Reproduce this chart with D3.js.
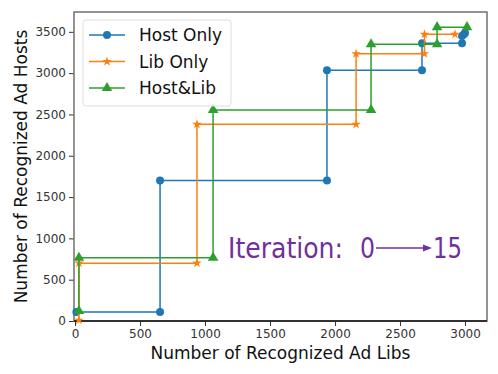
<!DOCTYPE html>
<html>
<head>
<meta charset="utf-8">
<script src="https://cdn.jsdelivr.net/npm/d3@7"></script>
<style>
  body { margin: 0; background: #fff; }
  text { font-family: "DejaVu Sans", sans-serif; }
</style>
</head>
<body>
<div id="chart"></div>
<script>
// series values (x = ad libs, y = ad hosts)
const hostOnlyX = [10, 654, 654, 1938, 1938, 2669, 2669, 2977, 2977, 2992, 3000];
const hostOnlyY = [110, 110, 1700, 1700, 3035, 3035, 3362, 3362, 3450, 3470, 3485];
const libOnlyX = [30, 30, 938, 938, 2162, 2162, 2688, 2688, 2923];
const libOnlyY = [10, 700, 700, 2380, 2380, 3235, 3235, 3470, 3470];
const hostLibX = [30, 30, 1062, 1062, 2277, 2277, 2785, 2785, 3015];
const hostLibY = [120, 765, 765, 2555, 2555, 3350, 3350, 3556, 3556];

const seriesNames = ["Host Only", "Lib Only", "Host&Lib"];
const xTicks = [0, 500, 1000, 1500, 2000, 2500, 3000];
const yTicks = [0, 500, 1000, 1500, 2000, 2500, 3000, 3500];

const W = 498, H = 374;
const margin = { left: 74, right: 11, top: 12, bottom: 53 };
const width = W - margin.left - margin.right;
const height = H - margin.top - margin.bottom;

const svg = d3.select("#chart").append("svg")
  .attr("width", W).attr("height", H);

const g = svg.append("g")
  .attr("transform", `translate(${margin.left},${margin.top})`);

const x = d3.scaleLinear().domain([-8, 3169]).range([0, width]);
const y = d3.scaleLinear().domain([0, 3740]).range([height, 0]);

// axes
const xAxis = g.append("g")
  .attr("transform", `translate(0,${height})`)
  .call(d3.axisBottom(x).tickValues(xTicks).tickFormat(d3.format("d")).tickSize(5).tickPadding(3));
const yAxis = g.append("g")
  .call(d3.axisLeft(y).tickValues(yTicks).tickFormat(d3.format("d")).tickSize(5).tickPadding(3));
[xAxis, yAxis].forEach(a => {
  a.selectAll("text").attr("font-size", 12).attr("fill", "#333")
    .attr("font-family", "DejaVu Sans");
  a.selectAll("line").attr("stroke", "#333");
  a.select(".domain").remove();
});

// spines
g.append("rect").attr("x", 0).attr("y", 0).attr("width", width).attr("height", height)
  .attr("fill", "none").attr("stroke", "#707070").attr("stroke-width", 1.5);
g.append("line").attr("x1", 0).attr("x2", width).attr("y1", height).attr("y2", height)
  .attr("stroke", "#111").attr("stroke-width", 1.5);

const colors = ["#1f77b4", "#ff7f0e", "#2ca02c"];
const symbols = [d3.symbolCircle, d3.symbolStar, d3.symbolTriangle];
const symSizes = [50, 28, 48];

const series = [
  d3.zip(hostOnlyX, hostOnlyY),
  d3.zip(libOnlyX, libOnlyY),
  d3.zip(hostLibX, hostLibY)
];

const line = d3.line().x(d => x(d[0])).y(d => y(d[1]));

series.forEach((pts, i) => {
  g.append("path").datum(pts)
    .attr("fill", "none")
    .attr("stroke", colors[i])
    .attr("stroke-width", 1.5)
    .attr("d", line);
  g.selectAll(null).data(pts).enter().append("path")
    .attr("transform", d => `translate(${x(d[0])},${y(d[1])})`)
    .attr("d", d3.symbol().type(symbols[i]).size(symSizes[i]))
    .attr("fill", colors[i]);
});

// axis titles
svg.append("text")
  .attr("x", margin.left + width / 2).attr("y", 359)
  .attr("text-anchor", "middle").attr("font-size", 17).attr("fill", "#111")
  .text("Number of Recognized Ad Libs");
svg.append("text")
  .attr("transform", `translate(27,${margin.top + height / 2}) rotate(-90)`)
  .attr("text-anchor", "middle").attr("font-size", 17).attr("fill", "#111")
  .text("Number of Recognized Ad Hosts");

// legend
const legend = svg.append("g");
legend.append("rect")
  .attr("x", 83).attr("y", 20).attr("width", 148).attr("height", 86)
  .attr("rx", 3).attr("fill", "#fff").attr("fill-opacity", 0.8)
  .attr("stroke", "#ddd");
seriesNames.forEach((name, i) => {
  const ly = 35 + i * 26.5;
  legend.append("line").attr("x1", 89).attr("x2", 125).attr("y1", ly).attr("y2", ly)
    .attr("stroke", colors[i]).attr("stroke-width", 1.5);
  legend.append("path")
    .attr("transform", `translate(107,${ly})`)
    .attr("d", d3.symbol().type(symbols[i]).size(symSizes[i]))
    .attr("fill", colors[i]);
  legend.append("text").attr("x", 139).attr("y", ly + 6)
    .attr("font-size", 17).attr("fill", "#111").text(name);
});

// iteration annotation
const purple = "#7030a0";
const ann = svg.append("g").attr("fill", purple)
  .style("font-family", "Lato, 'Open Sans', sans-serif").attr("font-size", 28);
ann.append("text").attr("x", 228).attr("y", 258)
  .attr("textLength", 115).attr("lengthAdjust", "spacingAndGlyphs").text("Iteration:");
ann.append("text").attr("x", 360).attr("y", 258)
  .attr("textLength", 15).attr("lengthAdjust", "spacingAndGlyphs").text("0");
ann.append("text").attr("x", 433).attr("y", 258)
  .attr("textLength", 29).attr("lengthAdjust", "spacingAndGlyphs").text("15");
svg.append("line").attr("x1", 376).attr("x2", 424).attr("y1", 248).attr("y2", 248)
  .attr("stroke", purple).attr("stroke-width", 1.3);
svg.append("path").attr("d", "M423,244.5 L432,248 L423,251.5 Z").attr("fill", purple);
</script>
</body>
</html>
